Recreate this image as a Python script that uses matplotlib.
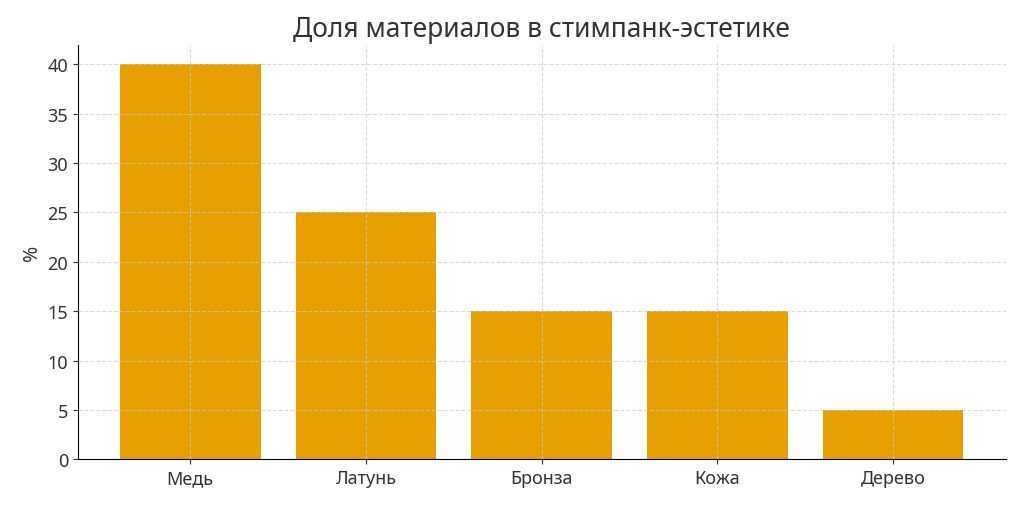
import matplotlib.pyplot as plt

materials = ['Медь', 'Латунь', 'Бронза', 'Кожа', 'Дерево']
shares = [40, 25, 15, 15, 5]

plt.rcParams['font.family'] = ['Noto Sans', 'DejaVu Sans']

fig, ax = plt.subplots(figsize=(10.24, 5.06), dpi=100)
fig.subplots_adjust(left=0.076, right=0.982, top=0.91, bottom=0.09)

ax.bar(materials, shares, color='#E6A000', width=0.8)
ax.set_title('Доля материалов в стимпанк-эстетике', fontsize=19, color='#333333')
ax.set_ylabel('%', fontsize=14, color='#333333')
ax.set_yticks(range(0, 45, 5))
ax.tick_params(labelsize=13, colors='#333333')
ax.grid(True, linestyle='--', color='#cccccc', linewidth=0.8, alpha=0.7)
ax.set_axisbelow(False)
for s in ['top', 'right']:
    ax.spines[s].set_visible(False)

plt.savefig('out.png')
